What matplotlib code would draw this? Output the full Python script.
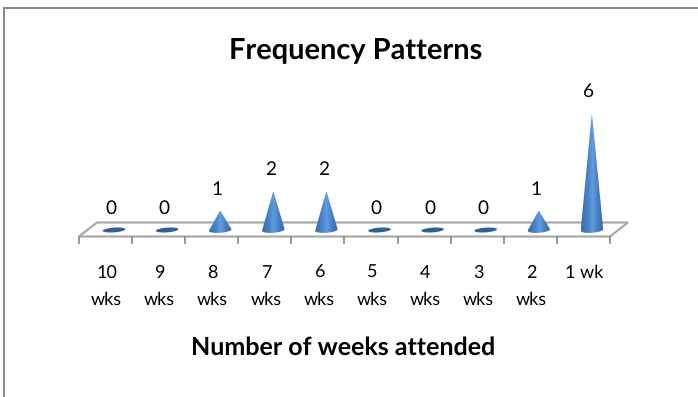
import numpy as np
import matplotlib
matplotlib.use("Agg")
import matplotlib.pyplot as plt
from matplotlib.colors import LinearSegmentedColormap
from matplotlib.patches import Polygon

categories = ["10\nwks", "9\nwks", "8\nwks", "7\nwks", "6\nwks", "5\nwks", "4\nwks", "3\nwks", "2\nwks", "1 wk"]
values = [0, 0, 1, 2, 2, 0, 0, 0, 1, 6]
title = "Frequency Patterns"
xlabel = "Number of weeks attended"

W, H = 698, 397
x0_px, dx_px = 114.0, 53.1
y0_px, dy_px = 230.0, 19.5

plt.rcParams["font.family"] = ["Lato", "DejaVu Sans"]
plt.rcParams["text.hinting"] = "none"
plt.rcParams["text.hinting_factor"] = 1
fig = plt.figure(figsize=(W / 100, H / 100), dpi=100, facecolor="white")
ax = fig.add_axes([0, 0, 1, 1])
ax.set_xlim(-x0_px / dx_px, (W - x0_px) / dx_px)
ax.set_ylim((y0_px - H) / dy_px, y0_px / dy_px)
ax.axis("off")


def px(x, y):
    return (x - x0_px) / dx_px, (y0_px - y) / dy_px


# Outer chart border (top and left visible)
grey = "#8a8a8a"
bx, by = zip(px(4.5, H), px(4.5, 7.5), px(W, 7.5))
ax.plot(bx, by, color=grey, lw=1.5, solid_joinstyle="miter", zorder=1)

# 3D floor
n = len(categories)
front_y = px(0, 236.5)[1]
back_y = px(0, 222.5)[1]
left = -0.5 - 0.16
right = n - 0.5 - 0.16
depth = 18 / dx_px
floor_x = [left, left + depth, right + depth, right, left]
floor_y = [front_y, back_y, back_y, front_y, front_y]
ax.add_patch(Polygon(np.c_[floor_x, floor_y], closed=True, fc="white", ec="#a6a6a6", lw=1.5, zorder=2))
tick_low = px(0, 242.5)[1]
for k in range(n + 1):
    ax.plot([left + k, left + k], [front_y, tick_low], color="#8c8c8c", lw=1.3, zorder=2)

# Cones
cmap = LinearSegmentedColormap.from_list(
    "cone", ["#3a6dac", "#4279bc", "#4c86ca", "#629bdf", "#5088cc", "#4075b6", "#3a6dac"])
half_w = 11.3 / dx_px
half_h = 2.8 / dy_px
tilt = 0.07 * (dx_px / dy_px)  # rise of the base ellipse, in data units
grad = np.linspace(0, 1, 128).reshape(1, -1)
for i, v in enumerate(values):
    if v == 0:
        t = np.linspace(0, 2 * np.pi, 60)
        ex = i + half_w * np.cos(t)
        ey = 0.85 * half_h * np.sin(t) + tilt * half_w * np.cos(t)
        ax.add_patch(Polygon(np.c_[ex, ey], closed=True, fc="#2f6098", ec="none", zorder=3))
    else:
        t = np.linspace(np.pi, 2 * np.pi, 40)
        ex = i + half_w * np.cos(t)
        ey = half_h * np.sin(t) + tilt * half_w * np.cos(t)
        pts = np.vstack([[i, v], np.c_[ex, ey]])
        clip = Polygon(pts, closed=True, transform=ax.transData, fc="none", ec="none")
        ax.add_patch(clip)
        im = ax.imshow(grad, extent=[i - half_w, i + half_w, -2 * half_h, v], cmap=cmap,
                       aspect="auto", zorder=3, interpolation="bilinear")
        im.set_clip_path(clip)
    ax.annotate(str(v), (i, v), xytext=(-2.2, 15.2), textcoords="offset points",
                ha="center", va="center", fontsize=13.5, color="black", zorder=4)

ax.set_xlim(-x0_px / dx_px, (W - x0_px) / dx_px)
ax.set_ylim((y0_px - H) / dy_px, y0_px / dy_px)

# Category labels
for k, lab in enumerate(categories):
    for j, p in enumerate(lab.split("\n")):
        xx = left + k + 0.5 + 1 / dx_px
        yy = px(0, 273 + 27 * j)[1]
        ax.text(xx, yy, p, ha="center", va="center", fontsize=13, color="black", zorder=4)

tx, ty = px(356, 51)
ax.text(tx, ty, title, ha="center", va="center", fontsize=20.8, fontweight="bold", color="black")
lx, ly = px(343.5, 348)
ax.text(lx, ly, xlabel, ha="center", va="center", fontsize=18.1, fontweight="bold", color="black")

fig.savefig("out.png", dpi=100, facecolor="white")
